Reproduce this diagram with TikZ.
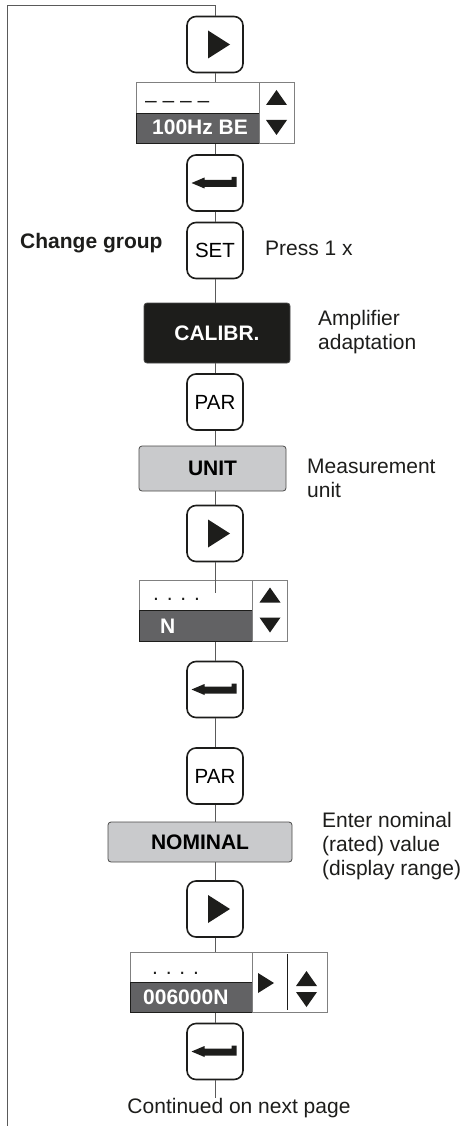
\documentclass[tikz,border=0pt]{standalone}
\usepackage{fontspec}
\setmainfont{Liberation Sans}
\usepackage{tikz}
\usetikzlibrary{positioning,calc}
\definecolor{lcd}{HTML}{626264}
\definecolor{menu}{HTML}{C9CACC}
\definecolor{ink}{HTML}{1D1D1B}
\definecolor{wirec}{HTML}{5A5A5A}
\newcommand{\txtfont}{\fontsize{21}{24}\selectfont}
\tikzset{
key/.style={draw=ink,line width=1.6pt,rounded corners=9pt,minimum width=56pt,minimum height=56pt,inner sep=0pt,font=\fontsize{20.5}{24}\selectfont},
menubox/.style={draw=ink!80,line width=0.8pt,rounded corners=3pt,fill=menu,inner sep=0pt,font=\txtfont\bfseries},
lcdtop/.style={draw=gray,line width=0.8pt,fill=white,inner sep=0pt,anchor=north west},
lcdbot/.style={draw=ink,line width=0.9pt,fill=lcd,inner sep=0pt,anchor=north west},
lcdcell/.style={draw=gray,line width=0.8pt,fill=white,inner sep=0pt,anchor=north west},
lcdtext/.style={anchor=base west,inner sep=0pt,text=white,font=\txtfont\bfseries},
wire/.style={draw=wirec,line width=0.8pt},
note/.style={anchor=base west,inner sep=0pt,align=left,text=ink},
playtri/.pic={\fill[ink] (-7,-14) -- (15,0) -- (-7,14) -- cycle;},
smalltri/.pic={\fill[ink] (-8,-10) -- (8,0) -- (-8,10) -- cycle;},
uptri/.pic={\fill[ink] (-10.5,7.5) -- (0,-7.5) -- (10.5,7.5) -- cycle;},
downtri/.pic={\fill[ink] (-10.5,-7.5) -- (10.5,-7.5) -- (0,7.5) -- cycle;},
entersym/.pic={\fill[ink] (-23.5,0) -- (-10.5,-5.5) -- (-10.5,-3) -- (16.5,-3) -- (16.5,-6)
  -- (21.5,-6) -- (21.5,4) -- (-10.5,4) -- (-10.5,5.5) -- cycle;}
}
\begin{document}
\begin{tikzpicture}[x=1pt,y=-1pt,font=\txtfont]
\useasboundingbox (0,0) rectangle (468,1126);
\coordinate (lb) at (7,1126);
\coordinate (lt) at (7,5);
\coordinate (rt) at (215,5);
% first display: group
\node[key] (play1) at (215,44.5) {};
\pic at (play1) {playtri};
\node[lcdtop,minimum width=123pt,minimum height=31pt] (d1t) at (136,82) {};
\node[lcdbot,minimum width=123pt,minimum height=30pt] (d1b) at (136,113) {};
\node[lcdcell,minimum width=35pt,minimum height=61pt] (d1c) at (259,82) {};
\node[anchor=base west,inner sep=0pt,text=ink] (d1v) at (145,108) {– – – –};
\node[lcdtext] (d1n) at (152,135) {100Hz BE};
\pic at (276.5,97.5) {uptri};
\pic at (276.5,127.5) {downtri};
\node[key] (enter1) at (215,183) {};
\pic at (enter1) {entersym};
\node[key] (set) at (215,250.5) {SET};
\node[note,font=\txtfont\bfseries] (group) at (20,248) {Change group};
\node[note] (press) at (265,255) {Press 1 x};
% menu
\node[menubox,fill=ink,text=white,minimum width=146pt,minimum height=60pt] (calib) at (217,333) {CALIBR.};
\node[note] (calibtxt) at (318,349) {Amplifier\\adaptation};
\node[key] (par1) at (215,402) {PAR};
\node[menubox,minimum width=147pt,minimum height=45pt] (unit) at (212.5,468.5) {UNIT};
\node[note] (unittxt) at (307,497) {Measurement\\unit};
\node[key] (play2) at (215,533.5) {};
\pic at (play2) {playtri};
% second display: unit
\node[lcdtop,minimum width=113pt,minimum height=30pt] (d2t) at (139,580) {};
\node[lcdbot,minimum width=113pt,minimum height=31pt] (d2b) at (139,610) {};
\node[lcdcell,minimum width=35pt,minimum height=61pt] (d2c) at (252,580) {};
\node[anchor=base west,inner sep=0pt,text=ink] (d2v) at (153,600) {. . . .};
\node[lcdtext] (d2n) at (160,633) {N};
\pic at (270,595) {uptri};
\pic at (270,625) {downtri};
\node[key] (enter2) at (215,689.5) {};
\pic at (enter2) {entersym};
\node[key] (par2) at (215,776) {PAR};
\node[menubox,minimum width=184pt,minimum height=40pt] (nominal) at (200,842) {NOMINAL};
\node[note] (nomtxt) at (322,875) {Enter nominal\\(rated) value\\(display range)};
\node[key] (play3) at (215,909) {};
\pic at (play3) {playtri};
% third display: nominal value
\node[lcdtop,minimum width=122pt,minimum height=30pt] (d3t) at (130,952) {};
\node[lcdbot,minimum width=122pt,minimum height=30pt] (d3b) at (130,982) {};
\node[lcdcell,minimum width=75pt,minimum height=60pt] (d3c) at (252,952) {};
\draw[ink,line width=0.8pt] ($(d3c.north west)+(35,2)$) -- ($(d3c.south west)+(35,-3)$);
\node[anchor=base west,inner sep=0pt,text=ink] (d3v) at (152,974) {. . . .};
\node[lcdtext] (d3n) at (143,1004) {006000N};
\pic at (266,983) {smalltri};
\pic at (306.5,978.5) {uptri};
\pic at (306.5,999.5) {downtri};
\node[key] (enter3) at (215,1051.5) {};
\pic at (enter3) {entersym};
\coordinate (down) at (215,1098);
\node[anchor=base,inner sep=0pt,text=ink] (cont) at (239,1113) {Continued on next page};
% connectors
\draw[wire] (lb) -- (lt) -- (rt) -- (play1);
\draw[wire] (play1) -- (play1 |- d1t.north);
\draw[wire] (enter1 |- d1b.south) -- (enter1);
\draw[wire] (enter1) -- (set);
\draw[wire] (set) -- (set |- calib.north);
\draw[wire] (par1 |- calib.south) -- (par1);
\draw[wire] (par1) -- (par1 |- unit.north);
\draw[wire] (play2 |- unit.south) -- (play2);
\coordinate (d2in) at (215,593);
\draw[wire] (play2) -- (d2in);
\draw[wire] (enter2 |- d2b.south) -- (enter2);
\draw[wire] (enter2) -- (par2);
\draw[wire] (par2) -- (par2 |- nominal.north);
\draw[wire] (play3 |- nominal.south) -- (play3);
\draw[wire] (play3) -- (play3 |- d3t.north);
\draw[wire] (enter3 |- d3b.south) -- (enter3);
\draw[wire] (enter3) -- (down);
\end{tikzpicture}
\end{document}
